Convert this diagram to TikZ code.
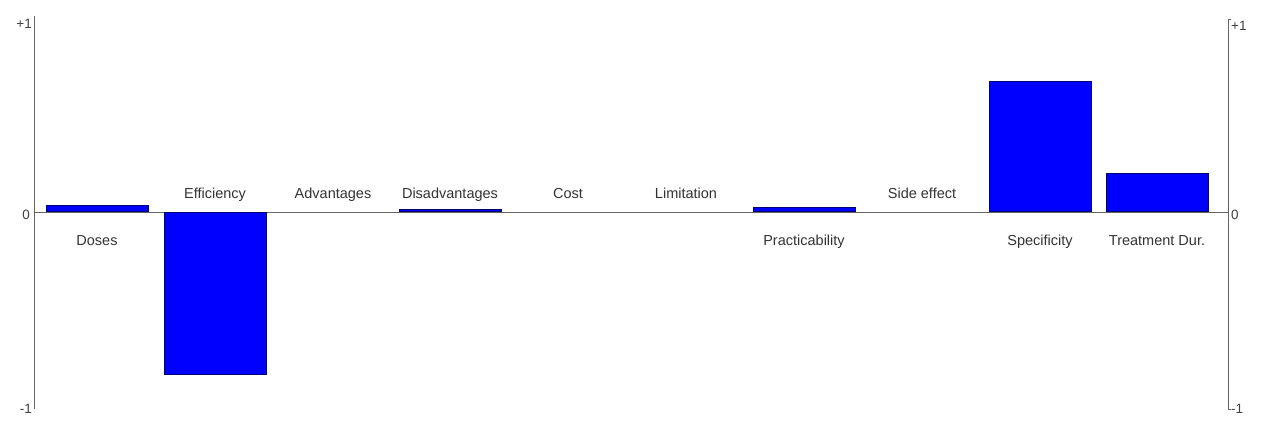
\documentclass[tikz,border=0pt]{standalone}
\usepackage{fontspec}
\setmainfont{Liberation Sans}

\begin{document}
\begin{tikzpicture}[x=1pt,y=1pt]
\tikzstyle{axis}=[draw=black!60,line width=0.9pt]
\tikzstyle{bar}=[fill=blue,draw=blue!45!black,line width=0.7pt,inner sep=0pt,minimum width=102pt]
\tikzstyle{catlabel}=[font=\fontsize{14.5}{16}\selectfont,text=black!80,inner sep=0pt,anchor=base]
\tikzstyle{ticklabel}=[font=\fontsize{13.5}{15}\selectfont,text=black!75,inner sep=0pt]

\useasboundingbox (0,-209) rectangle (1261,212);

% axes
\coordinate (LTop) at (34,196);
\coordinate (LBot) at (34,-197);
\coordinate (RTop) at (1228,193);
\coordinate (RBot) at (1228,-197);
\coordinate (LZero) at (34,0);
\coordinate (RZero) at (1228,0);
\draw [axis] (LTop) -- (LBot);
\draw [axis] (RTop) -- (RBot);
\draw [axis] (LZero) -- (RZero);
\draw [axis] (RTop) -- +(3,0);
\draw [axis] (RBot) -- +(3,0);

\node (lplus) [ticklabel,anchor=base east] at (32,184) {+1};
\node (lzero) [ticklabel,anchor=base east] at (30,-7) {0};
\node (lminus) [ticklabel,anchor=base east] at (32,-201) {-1};
\node (rplus) [ticklabel,anchor=base west] at (1231,182) {+1};
\node (rzero) [ticklabel,anchor=base west] at (1231,-7) {0};
\node (rminus) [ticklabel,anchor=base west] at (1231,-201) {-1};

% bars (1 = 195pt)
\node (bDoses) [bar,anchor=south,minimum height=6pt] at (97,0) {};
\node (bEfficiency) [bar,anchor=north,minimum height=162pt] at (215,0) {};
\node (bDisadvantages) [bar,anchor=south,minimum height=2.5pt] at (450,0) {};
\node (bPracticability) [bar,anchor=south,minimum height=4pt] at (804,0) {};
\node (bSpecificity) [bar,anchor=south,minimum height=130pt] at (1040,0) {};
\node (bTreatment) [bar,anchor=south,minimum height=38pt] at (1157,0) {};

% labels
\node (tDoses) [catlabel] at (97,-33) {Doses};
\node (tEfficiency) [catlabel] at (215,14) {Efficiency};
\node (tAdvantages) [catlabel] at (333,14) {Advantages};
\node (tDisadvantages) [catlabel] at (450,14) {Disadvantages};
\node (tCost) [catlabel] at (568,14) {Cost};
\node (tLimitation) [catlabel] at (686,14) {Limitation};
\node (tPracticability) [catlabel] at (804,-33) {Practicability};
\node (tSideeffect) [catlabel] at (922,14) {Side effect};
\node (tSpecificity) [catlabel] at (1040,-33) {Specificity};
\node (tTreatment) [catlabel] at (1157,-33) {Treatment Dur.};

\end{tikzpicture}
\end{document}
